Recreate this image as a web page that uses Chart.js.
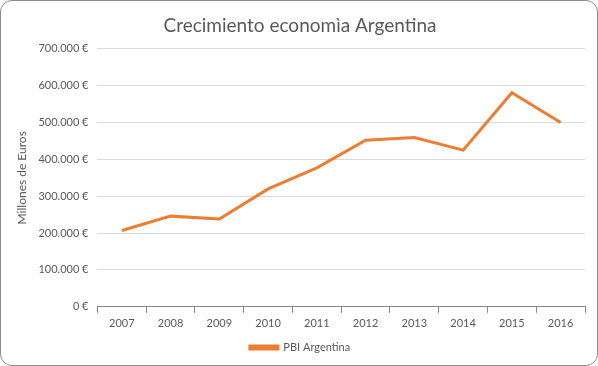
<!DOCTYPE html>
<html>
<head>
<meta charset="utf-8">
<script src="https://cdn.jsdelivr.net/npm/chart.js@4"></script>
<style>
  html, body { margin: 0; padding: 0; background: #fff; }
  #wrap {
    position: relative;
    width: 598px; height: 366px;
    box-sizing: border-box;
    border: 1px solid #8c8c8c;
    border-radius: 12px;
    overflow: hidden;
  }
  canvas { display: block; }
</style>
</head>
<body>
<div id="wrap"><canvas id="chart" width="596" height="364"></canvas></div>
<script>
// ─── Data ───
const years = ['2007', '2008', '2009', '2010', '2011', '2012', '2013', '2014', '2015', '2016'];
const pbiArgentina = [207000, 246000, 238000, 320000, 377000, 452000, 459000, 425000, 581000, 500000];

const textColor = '#595959';
const fontFamily = "Lato, 'Open Sans', sans-serif";

function euro(v) {
  return String(v).replace(/\B(?=(\d{3})+(?!\d))/g, '.') + ' €';
}

new Chart(document.getElementById('chart'), {
  type: 'line',
  data: {
    labels: years,
    datasets: [{
      label: 'PBI Argentina',
      data: pbiArgentina,
      borderColor: '#ED7D31',
      backgroundColor: '#ED7D31',
      borderWidth: 3,
      pointRadius: 0,
      tension: 0,
    }],
  },
  options: {
    responsive: false,
    animation: false,
    layout: { padding: { left: 14, right: 12, top: 9, bottom: 2 } },
    plugins: {
      title: {
        display: true,
        text: 'Crecimiento economìa Argentina',
        color: textColor,
        font: { family: fontFamily, size: 19, weight: 'normal' },
        padding: { top: 4, bottom: 12 },
      },
      legend: {
        position: 'bottom',
        labels: {
          color: textColor,
          font: { family: fontFamily, size: 11 },
          boxWidth: 28,
          boxHeight: 3,
          padding: 8,
        },
      },
      tooltip: { enabled: false },
    },
    scales: {
      y: {
        min: 0,
        max: 700000,
        ticks: {
          stepSize: 100000,
          color: textColor,
          font: { family: fontFamily, size: 11 },
          padding: 9,
          callback: v => euro(v),
        },
        grid: { color: '#D9D9D9', drawTicks: false },
        border: { display: false },
        title: {
          display: true,
          text: 'Millones de Euros',
          color: textColor,
          font: { family: fontFamily, size: 12 },
          padding: { top: 0, bottom: 0 },
        },
      },
      x: {
        offset: true,
        ticks: {
          color: textColor,
          font: { family: fontFamily, size: 11 },
          padding: 4,
        },
        grid: {
          offset: true,
          drawOnChartArea: false,
          drawTicks: true,
          tickLength: 6,
          color: '#868686',
        },
        border: { color: '#868686', width: 1 },
      },
    },
  },
});
</script>
</body>
</html>
